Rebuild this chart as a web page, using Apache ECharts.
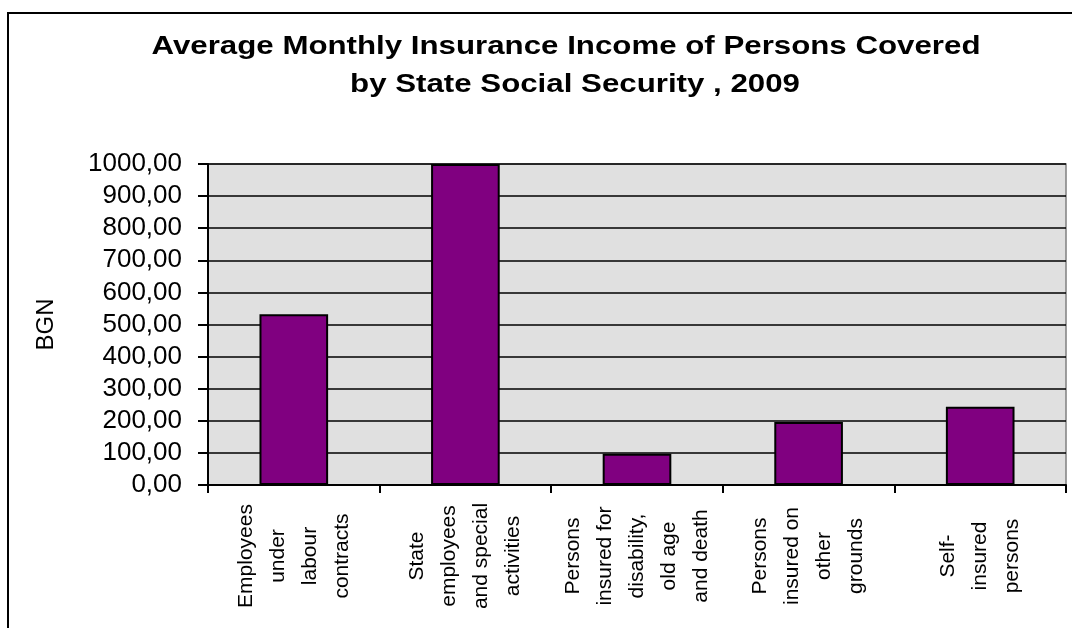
<!DOCTYPE html>
<html>
<head>
<meta charset="utf-8">
<script src="https://cdn.jsdelivr.net/npm/echarts@6/dist/echarts.min.js"></script>
<style>html,body{margin:0;padding:0;background:#fff}#c{width:1072px;height:628px}</style>
</head>
<body>
<div id="c"></div>
<script>
const titleLines = ['Average Monthly Insurance Income of Persons Covered', 'by State Social Security , 2009'];
const categories = [
  'Employees\nunder\nlabour\ncontracts',
  'State\nemployees\nand special\nactivities',
  'Persons\ninsured for\ndisability,\nold age\nand death',
  'Persons\ninsured on\nother\ngrounds',
  'Self-\ninsured\npersons'
];
const values = [532, 1000, 97, 196, 244];
const yName = 'BGN';

const FONT = 'Liberation Sans, Arial, sans-serif';
const chart = echarts.init(document.getElementById('c'));
chart.setOption({
  animation: false,
  backgroundColor: '#ffffff',
  graphic: [
    { type: 'rect', shape: { x: 8, y: 13, width: 1100, height: 700 }, style: { fill: 'none', stroke: '#000', lineWidth: 2 }, silent: true },
    { type: 'text', x: 566, y: 47, scaleX: 1.25, style: { text: titleLines[0], font: 'bold 25px ' + FONT, fill: '#000', textAlign: 'center', textVerticalAlign: 'middle' } },
    { type: 'text', x: 575, y: 85, scaleX: 1.25, style: { text: titleLines[1], font: 'bold 25px ' + FONT, fill: '#000', textAlign: 'center', textVerticalAlign: 'middle' } }
  ],
  grid: {
    left: 208, top: 164, right: 6, bottom: 143,
    show: true, backgroundColor: '#E0E0E0', borderColor: '#808080', borderWidth: 1.5
  },
  xAxis: {
    type: 'category',
    data: categories,
    boundaryGap: true,
    axisLine: { lineStyle: { color: '#000', width: 2 } },
    axisTick: { show: true, length: 8, lineStyle: { color: '#000', width: 2 } },
    axisLabel: {
      rotate: 90, interval: 0, margin: 71,
      align: 'center', verticalAlign: 'middle',
      fontFamily: FONT, fontSize: 21, lineHeight: 32, color: '#000'
    }
  },
  yAxis: {
    type: 'value', min: 0, max: 1000, interval: 100,
    name: yName, nameLocation: 'middle', nameRotate: 90, nameGap: 150,
    nameTextStyle: { fontFamily: FONT, fontSize: 24, color: '#000' },
    axisLine: { show: true, lineStyle: { color: '#000', width: 2 } },
    axisTick: { show: true, length: 10, lineStyle: { color: '#000', width: 2 } },
    axisLabel: {
      margin: 26, fontFamily: FONT, fontSize: 26, color: '#000',
      formatter: v => v.toFixed(2).replace('.', ',')
    },
    splitLine: { show: true, lineStyle: { color: '#000', width: 1.5 } }
  },
  series: [{
    type: 'bar',
    data: values,
    barWidth: '40%',
    itemStyle: { color: '#800080', borderColor: '#000', borderWidth: 2 }
  }]
});
</script>
</body>
</html>
